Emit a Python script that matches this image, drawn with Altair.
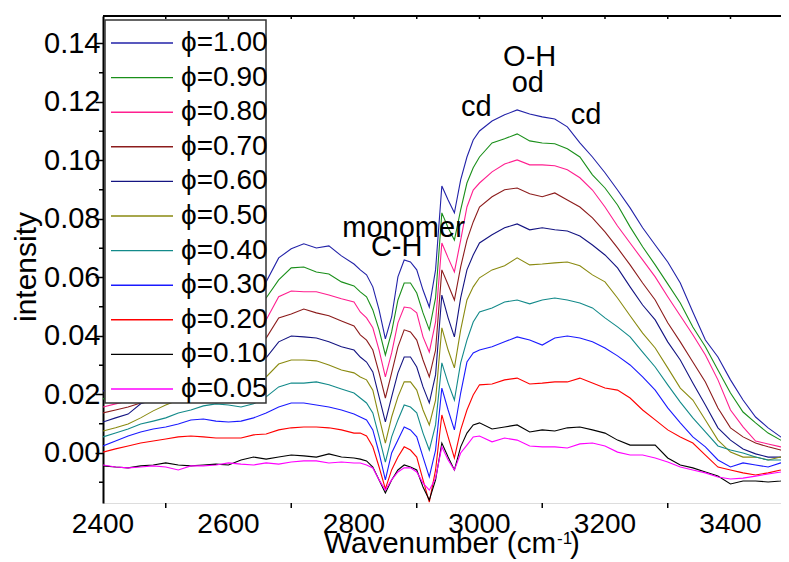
import altair as alt
import pandas as pd

# ---------------- data (intensity values in units of 1e-3) ----------------
WAVENUMBER = [2400, 2420, 2440, 2460, 2480, 2500, 2520, 2540, 2560, 2580, 2600,
              2620, 2640, 2660, 2680, 2700, 2720, 2740, 2760, 2780, 2800,
              2810, 2820, 2830, 2840, 2850, 2860, 2870, 2880, 2890, 2900,
              2910, 2920, 2930, 2940, 2950, 2960, 2970, 2980, 2990, 3000,
              3020, 3040, 3060, 3080, 3100, 3120, 3140, 3160, 3180, 3200, 3220, 3240,
              3260, 3280, 3300, 3320, 3340, 3360, 3380, 3400, 3420, 3440, 3460, 3480,
              3490]

PHI_LABELS = ["1.00", "0.90", "0.80", "0.70", "0.60", "0.50",
              "0.40", "0.30", "0.20", "0.10", "0.05"]
COLORS = ["#2222a8", "#1a8f1a", "#ff1f8f", "#8c1c1c", "#141482", "#8a8a10",
          "#138a8a", "#1a1aff", "#ff0000", "#000000", "#ff00ff"]

I_100 = [21.2, 22.2, 23.6, 25.6, 28.4, 31.1, 34.5, 38.0, 41.4, 45.5, 48.9, 52.3, 55.1, 58.5, 66.7, 69.8, 71.5, 70.1, 70.8, 67.4, 64.6,
         62.6, 60.9, 56.8, 48.9, 39.0, 46.5, 60.2, 66.0, 65.3, 62.6, 55.7, 49.9, 62.6, 91.3, 86.5, 82.1, 93.4, 101.2, 107.0, 110.1,
         113.5, 115.6, 117.3, 115.9, 114.9, 114.2, 111.5, 106.0, 101.2, 95.8, 89.9, 83.8, 77.0, 71.1, 65.3, 58.1, 48.2, 38.6, 32.8, 25.0, 18.1, 12.3, 8.6, 5.5,
         4.4]
I_090 = [18.5, 19.5, 20.5, 22.2, 24.3, 26.7, 29.4, 32.5, 35.2, 38.6, 42.1, 45.5, 48.9, 53.0, 59.2, 63.3, 63.6, 61.9, 61.2, 58.5, 57.1,
         55.1, 53.4, 48.9, 42.1, 33.5, 41.4, 52.3, 58.1, 58.1, 54.7, 47.9, 42.1, 53.0, 82.1, 77.0, 72.8, 83.1, 92.3, 97.5, 101.2,
         106.0, 107.4, 109.1, 106.7, 106.0, 105.7, 104.0, 101.2, 95.1, 90.6, 84.8, 77.3, 70.5, 64.3, 57.8, 51.3, 43.1, 36.3, 28.4, 20.5, 14.0, 10.3, 6.8, 4.4,
         3.4]
I_080 = [15.7, 16.8, 17.8, 19.2, 20.9, 22.9, 25.0, 27.7, 30.4, 33.5, 36.3, 39.3, 42.1, 45.5, 53.4, 55.4, 55.1, 55.1, 54.0, 52.7, 51.6,
         48.2, 46.2, 42.8, 35.2, 26.0, 34.2, 44.5, 49.9, 49.6, 47.9, 39.7, 34.5, 44.8, 71.8, 66.7, 61.9, 72.8, 84.1, 89.9, 92.3,
         96.1, 98.8, 100.2, 98.5, 98.5, 98.2, 96.8, 94.1, 89.9, 84.1, 77.6, 71.8, 66.0, 60.2, 53.4, 46.9, 40.4, 33.5, 25.0, 14.7, 8.9, 4.1, 3.1, 2.1,
         1.0]
I_070 = [13.7, 14.7, 15.7, 17.1, 18.5, 20.2, 22.2, 24.3, 26.3, 28.7, 31.1, 33.5, 36.3, 39.3, 46.2, 47.5, 49.2, 47.9, 46.9, 45.1, 43.4,
         40.4, 38.6, 35.2, 27.4, 18.8, 27.4, 36.3, 42.1, 41.4, 38.6, 31.8, 26.0, 35.2, 62.6, 57.5, 52.3, 63.6, 72.8, 79.0, 84.1,
         87.6, 90.0, 90.6, 88.6, 87.6, 88.9, 86.5, 84.1, 80.4, 75.6, 70.1, 64.3, 58.1, 52.3, 44.5, 38.0, 31.1, 24.3, 15.4, 8.6, 5.5, 3.4, 2.1, 1.0,
         0.0]
I_060 = [10.6, 12.0, 13.3, 16.8, 18.1, 19.2, 20.5, 21.5, 22.9, 24.3, 26.0, 28.0, 30.1, 32.5, 38.0, 40.0, 39.7, 39.3, 38.0, 36.3, 35.2,
         32.8, 31.1, 27.7, 19.2, 10.6, 19.2, 27.4, 32.8, 32.8, 29.4, 22.6, 17.1, 26.7, 54.0, 46.2, 39.7, 53.0, 62.6, 67.7, 71.8,
         74.6, 77.0, 78.3, 76.3, 77.0, 76.3, 75.9, 74.2, 71.1, 67.7, 63.3, 56.8, 50.6, 45.5, 38.0, 31.8, 23.9, 16.4, 8.6, 4.4, 1.4, -0.3, -1.4, -1.4,
         -0.7]
I_050 = [7.5, 8.6, 9.9, 12.0, 14.4, 16.4, 18.1, 19.2, 20.2, 21.2, 22.2, 23.3, 24.6, 26.0, 30.4, 31.8, 31.8, 31.5, 30.1, 28.4, 27.4,
         26.0, 25.0, 21.5, 12.3, 3.4, 12.3, 19.2, 24.3, 24.3, 21.5, 14.7, 9.6, 18.1, 42.8, 35.2, 29.1, 42.1, 52.3, 56.8, 59.9,
         62.6, 64.0, 66.7, 64.3, 64.6, 65.0, 65.3, 64.0, 60.9, 58.5, 53.0, 46.9, 41.0, 35.9, 29.1, 22.2, 18.1, 11.3, 4.4, 0.3, -1.4, -1.4, -2.4, -1.4,
         -1.4]
I_040 = [5.5, 6.8, 8.2, 9.9, 10.9, 12.0, 13.7, 14.7, 16.1, 16.8, 16.4, 15.7, 16.8, 19.2, 22.6, 23.9, 23.9, 24.3, 23.3, 21.9, 20.5,
         18.8, 17.1, 13.7, 5.5, -3.1, 5.5, 11.3, 16.4, 15.7, 13.7, 6.8, 1.0, 9.6, 30.8, 23.9, 18.1, 30.8, 38.6, 44.8, 48.2,
         49.6, 51.6, 52.3, 51.0, 52.3, 53.0, 52.3, 51.3, 49.6, 46.2, 43.1, 39.7, 34.5, 29.4, 23.3, 17.4, 12.0, 7.2, 2.4, 1.0, 0.0, -1.4, -2.4, -2.4,
         -2.4]
I_030 = [2.4, 4.1, 5.8, 7.2, 8.2, 8.9, 9.9, 11.3, 11.6, 10.9, 10.6, 10.9, 12.0, 13.7, 15.7, 17.1, 17.1, 16.4, 15.7, 14.7, 13.3,
         12.3, 11.3, 7.9, 0.0, -9.2, 0.0, 4.4, 8.9, 7.9, 5.5, -1.4, -8.2, 1.0, 22.2, 14.7, 7.9, 20.5, 31.1, 34.2, 35.2,
         36.3, 38.0, 39.7, 38.6, 36.9, 39.3, 40.0, 39.3, 38.0, 35.9, 33.2, 30.1, 26.0, 21.5, 15.4, 10.3, 5.5, 2.1, -2.4, -4.8, -3.4, -4.1, -4.8, -3.4,
         -4.1]
I_020 = [0.3, 1.4, 2.4, 3.4, 4.1, 4.8, 5.5, 5.8, 5.5, 5.1, 5.1, 5.1, 6.2, 6.5, 7.9, 8.6, 8.9, 8.9, 8.6, 7.9, 6.8,
         6.8, 5.8, 2.1, -4.8, -12.3, -5.8, -1.4, 2.1, 1.0, -1.4, -9.2, -16.8, -5.8, 13.0, 5.5, -1.7, 7.9, 14.7, 19.8, 23.3,
         23.6, 25.0, 25.6, 23.6, 23.9, 24.3, 24.3, 25.6, 23.9, 22.2, 21.5, 18.8, 14.7, 11.3, 7.9, 5.5, 3.4, -0.7, -4.8, -5.8, -6.8, -7.5, -6.8, -5.8,
         -5.1]
I_010 = [-4.4, -4.8, -5.1, -4.4, -4.1, -3.4, -4.1, -4.4, -4.1, -3.8, -4.1, -2.4, -1.4, -2.1, -1.4, -0.7, -1.0, -1.4, -0.3, -1.4, -1.7,
         -2.1, -2.7, -4.8, -9.2, -13.7, -9.2, -5.8, -4.1, -4.8, -5.8, -11.6, -16.1, -9.2, 3.4, -1.4, -5.8, 2.1, 6.8, 9.6, 10.3,
         8.2, 8.9, 9.6, 7.2, 7.9, 7.5, 8.6, 8.9, 7.9, 6.8, 4.4, 2.7, 2.7, 2.7, -1.7, -4.1, -5.1, -6.5, -7.9, -10.6, -9.6, -9.6, -9.9, -9.6,
         -8.6]
I_005 = [-4.1, -4.8, -5.1, -4.8, -4.4, -4.8, -5.8, -4.4, -4.4, -4.1, -3.4, -3.8, -4.1, -3.4, -3.8, -3.1, -2.7, -2.7, -3.4, -3.1, -3.4,
         -3.4, -4.1, -5.1, -9.2, -12.7, -9.2, -6.5, -5.1, -5.1, -6.5, -10.3, -12.7, -8.6, 2.1, -2.4, -5.8, 0.0, 2.7, 5.5, 5.8,
         3.8, 5.1, 4.4, 2.4, 2.1, 2.1, 1.7, 3.1, 3.4, 2.4, 0.3, -0.7, -0.7, -1.7, -3.1, -4.8, -5.8, -6.8, -8.2, -8.9, -8.6, -7.9, -7.2, -6.5,
         -5.8]

SERIES = [I_100, I_090, I_080, I_070, I_060, I_050, I_040, I_030, I_020, I_010, I_005]

ANN_TEXT = ["O-H", "od", "cd", "cd", "monomer", "C-H"]
ANN_W = [3080, 3077, 2995, 3170, 2879, 2868]
ANN_V = [0.1355, 0.1265, 0.1183, 0.1156, 0.0769, 0.0704]

Y_MAJOR = [0.00, 0.02, 0.04, 0.06, 0.08, 0.10, 0.12, 0.14]
Y_MINOR = [-0.01, 0.01, 0.03, 0.05, 0.07, 0.09, 0.11, 0.13]
X_MAJOR = [2400, 2600, 2800, 3000, 3200, 3400]
X_MINOR = [2500, 2700, 2900, 3100, 3300]
X_TOP = [2500, 2600, 2700, 2800, 2900, 3000, 3100, 3200, 3300, 3400]

# ---------------- build table ----------------
rows = []
for lab, ser in zip(PHI_LABELS, SERIES):
    assert len(ser) == len(WAVENUMBER), lab
    for w, v in zip(WAVENUMBER, ser):
        rows.append({"phi": lab, "wavenumber": w, "intensity": v / 1000.0})
df = pd.DataFrame(rows)

W, H = 678, 487
FONT = "Liberation Sans"
xs = alt.Scale(domain=[2400, 3480.5], nice=False, zero=False)
ys = alt.Scale(domain=[-0.0171, 0.1494], nice=False, zero=False)
cs = alt.Scale(domain=PHI_LABELS, range=COLORS)
one = pd.DataFrame({"a": [0]})

lines = alt.Chart(df).mark_line(strokeWidth=1.1, clip=True).encode(
    x=alt.X("wavenumber:Q", scale=xs,
            axis=alt.Axis(values=X_MAJOR, ticks=False, labels=False,
                          domainColor="black", domainWidth=2, grid=False, title=None)),
    y=alt.Y("intensity:Q", scale=ys,
            axis=alt.Axis(values=Y_MAJOR, format=".2f", tickSize=8, tickWidth=1.5,
                          tickColor="black", labelPadding=-5, labelFontSize=29,
                          labelFont=FONT, labelColor="black", domainColor="black",
                          domainWidth=2, grid=False, title=None, labelFlush=False,
                          labelOverlap=False)),
    color=alt.Color("phi:N", scale=cs, legend=None),
)

x_labels = alt.Chart(pd.DataFrame({"w": X_MAJOR, "t": [str(v) for v in X_MAJOR]})).mark_text(
    align="center", baseline="top", fontSize=28, font=FONT, color="black").encode(
    x=alt.X("w:Q", scale=xs, axis=None), y=alt.value(H + 8), text="t:N")
y_minor = alt.Chart(pd.DataFrame({"v": Y_MINOR})).mark_rule(color="black", strokeWidth=1.5).encode(
    y=alt.Y("v:Q", scale=ys, axis=None), x=alt.value(-4), x2=alt.value(0))
x_minor = alt.Chart(pd.DataFrame({"w": X_MINOR})).mark_rule(color="black", strokeWidth=1.5).encode(
    x=alt.X("w:Q", scale=xs, axis=None), y=alt.value(H), y2=alt.value(H + 5))
top_line = alt.Chart(one).mark_rule(color="black", strokeWidth=2).encode(
    x=alt.value(0), x2=alt.value(W), y=alt.value(0))
top_ticks = alt.Chart(pd.DataFrame({"w": X_TOP})).mark_rule(color="black", strokeWidth=1.5).encode(
    x=alt.X("w:Q", scale=xs, axis=None), y=alt.value(-1), y2=alt.value(3))

legend_box = alt.Chart(one).mark_rect(fill="white", stroke="#333333", strokeWidth=1.5).encode(
    x=alt.value(2), x2=alt.value(163), y=alt.value(4), y2=alt.value(387))
leg_df = pd.DataFrame({"phi": PHI_LABELS, "label": ["\u03d5=" + p for p in PHI_LABELS]})
ly = alt.Y("phi:N", scale=alt.Scale(type="point", domain=PHI_LABELS, range=[27, 373], padding=0), axis=None)
leg_lines = alt.Chart(leg_df).mark_rule(strokeWidth=1.4).encode(
    x=alt.value(8), x2=alt.value(70), y=ly, color=alt.Color("phi:N", scale=cs, legend=None))
leg_text = alt.Chart(leg_df).mark_text(align="left", baseline="middle", fontSize=28, font=FONT,
                                       color="black").encode(x=alt.value(78), y=ly, text="label:N")

ann = alt.Chart(pd.DataFrame({"text": ANN_TEXT, "w": ANN_W, "v": ANN_V})).mark_text(
    fontSize=29, font=FONT, align="center", baseline="middle", color="black").encode(
    x=alt.X("w:Q", scale=xs, axis=None), y=alt.Y("v:Q", scale=ys, axis=None), text="text:N")

t_main = alt.Chart(one).mark_text(text="Wavenumber (cm", align="right", baseline="alphabetic",
                                  fontSize=29.5, font=FONT, color="black").encode(
    x=alt.value(453), y=alt.value(537))
t_sup = alt.Chart(one).mark_text(text="-1", align="left", baseline="alphabetic",
                                 fontSize=17, font=FONT, color="black").encode(
    x=alt.value(454), y=alt.value(528))
t_par = alt.Chart(one).mark_text(text=")", align="left", baseline="alphabetic",
                                 fontSize=29.5, font=FONT, color="black").encode(
    x=alt.value(467), y=alt.value(537))
t_y = alt.Chart(one).mark_text(text="intensity", angle=270, align="center", baseline="middle",
                               fontSize=30, font=FONT, color="black").encode(
    x=alt.value(-76), y=alt.value(251))

chart = alt.layer(
    lines, x_labels, y_minor, x_minor, top_line, top_ticks, legend_box, leg_lines, leg_text, ann,
    t_main, t_sup, t_par, t_y
).resolve_scale(y="independent").properties(
    width=W, height=H,
    autosize=alt.AutoSizeParams(type="none"),
    padding={"left": 95, "top": 8, "right": 0, "bottom": 58},
).configure_view(stroke=None).configure(background="white")

chart.save("out.html", embed_options={"renderer": "svg", "actions": False})
